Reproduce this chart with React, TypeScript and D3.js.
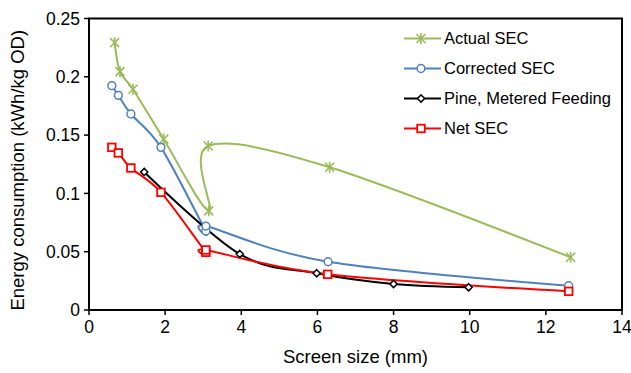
import * as d3 from 'd3';

// Screen size (mm) and energy consumption (kWh/kg OD)
const actualX = [0.675, 0.815, 1.156, 1.963, 3.146, 3.13, 6.32, 12.65];
const actualY = [0.2293, 0.2044, 0.1893, 0.1465, 0.085, 0.1407, 0.1224, 0.0452];

const correctedX = [0.6, 0.77, 1.1, 1.89, 3.07, 3.07, 6.28, 12.6];
const correctedY = [0.1924, 0.1841, 0.1681, 0.1395, 0.0678, 0.072, 0.0414, 0.0208];

const pineX = [1.45, 3.96, 5.98, 8.0, 9.97];
const pineY = [0.1184, 0.048, 0.0315, 0.0223, 0.0195];

const netX = [0.6, 0.77, 1.1, 1.89, 3.07, 3.07, 6.27, 12.6];
const netY = [0.1395, 0.1347, 0.1218, 0.1009, 0.0495, 0.0515, 0.0306, 0.016];

const xTicks = [0, 2, 4, 6, 8, 10, 12, 14];
const yTicks = [0, 0.05, 0.1, 0.15, 0.2, 0.25];

type Marker = 'star' | 'circle' | 'diamond' | 'square';

const series = [
  { name: 'Actual SEC', xs: actualX, ys: actualY, color: '#9BBB59', marker: 'star' as Marker },
  { name: 'Corrected SEC', xs: correctedX, ys: correctedY, color: '#4F81BD', marker: 'circle' as Marker },
  { name: 'Pine, Metered Feeding', xs: pineX, ys: pineY, color: '#000000', marker: 'diamond' as Marker },
  { name: 'Net SEC', xs: netX, ys: netY, color: '#FF0000', marker: 'square' as Marker },
];

const W = 631;
const H = 373;
const margin = { left: 89, right: 9, top: 18.5, bottom: 63 };
const FONT = '"Liberation Sans", Arial, sans-serif';

function MarkerShape({ type, color }: { type: Marker; color: string }) {
  if (type === 'star') {
    return (
      <g stroke={color} strokeWidth={1.6}>
        <line x1={-4.5} y1={-4.5} x2={4.5} y2={4.5} />
        <line x1={-4.5} y1={4.5} x2={4.5} y2={-4.5} />
        <line x1={0} y1={-5.5} x2={0} y2={5.5} />
      </g>
    );
  }
  if (type === 'circle') {
    return <circle r={3.9} fill="white" stroke={color} strokeWidth={1.5} />;
  }
  if (type === 'diamond') {
    return <path d="M0,-3.6L3.6,0L0,3.6L-3.6,0Z" fill="white" stroke={color} strokeWidth={1.5} />;
  }
  return <rect x={-3.8} y={-3.8} width={7.6} height={7.6} fill="white" stroke={color} strokeWidth={1.8} />;
}

export default function App() {
  const innerW = W - margin.left - margin.right;
  const innerH = H - margin.top - margin.bottom;

  const x = d3.scaleLinear().domain([0, 14]).range([0, innerW]);
  const y = d3.scaleLinear().domain([0, 0.25]).range([innerH, 0]);

  const line = d3
    .line<[number, number]>()
    .x((d) => x(d[0]))
    .y((d) => y(d[1]))
    .curve(d3.curveCardinal.tension(0));

  return (
    <svg width={W} height={H} style={{ position: 'absolute', left: 0, top: 0, background: 'white' }} fontFamily={FONT}>
      <g transform={`translate(${margin.left},${margin.top})`}>
        {/* lines */}
        {series.map((s) => (
          <path
            key={s.name}
            d={line(s.xs.map((v, i) => [v, s.ys[i]] as [number, number])) || ''}
            fill="none"
            stroke={s.color}
            strokeWidth={2}
          />
        ))}
        {/* markers */}
        {series.map((s) =>
          s.xs.map((v, i) => (
            <g key={s.name + i} transform={`translate(${x(v)},${y(s.ys[i])})`}>
              <MarkerShape type={s.marker} color={s.color} />
            </g>
          ))
        )}

        {/* frame */}
        <rect x={0} y={0} width={innerW} height={innerH} fill="none" stroke="black" strokeWidth={2} />

        {/* x axis */}
        {xTicks.map((t) => (
          <g key={'x' + t} transform={`translate(${x(t)},${innerH})`}>
            <line y1={0} y2={5} stroke="black" strokeWidth={1.5} />
            <text y={22.5} textAnchor="middle" fontSize={17.5} fill="black">
              {t}
            </text>
          </g>
        ))}
        <text x={innerW / 2} y={innerH + 53} textAnchor="middle" fontSize={18.5} fill="black">
          Screen size (mm)
        </text>

        {/* y axis */}
        {yTicks.map((t) => (
          <g key={'y' + t} transform={`translate(0,${y(t)})`}>
            <line x1={-5} x2={0} stroke="black" strokeWidth={1.5} />
            <text x={-9} dy="0.35em" textAnchor="end" fontSize={17.5} fill="black">
              {String(t)}
            </text>
          </g>
        ))}
        <text
          transform={`translate(${-margin.left + 24},${innerH / 2 + 6}) rotate(-90)`}
          textAnchor="middle"
          fontSize={18.5}
          fill="black"
        >
          Energy consumption (kWh/kg OD)
        </text>

        {/* legend */}
        <g transform={`translate(${404 - margin.left},${38.5 - margin.top})`}>
          {series.map((s, i) => (
            <g key={'leg' + s.name} transform={`translate(0,${i * 30})`}>
              <line x1={0} x2={37} stroke={s.color} strokeWidth={2} />
              <g transform="translate(17,0)">
                <MarkerShape type={s.marker} color={s.color} />
              </g>
              <text x={40} dy="0.35em" fontSize={16.5} fill="black">
                {s.name}
              </text>
            </g>
          ))}
        </g>
      </g>
    </svg>
  );
}
